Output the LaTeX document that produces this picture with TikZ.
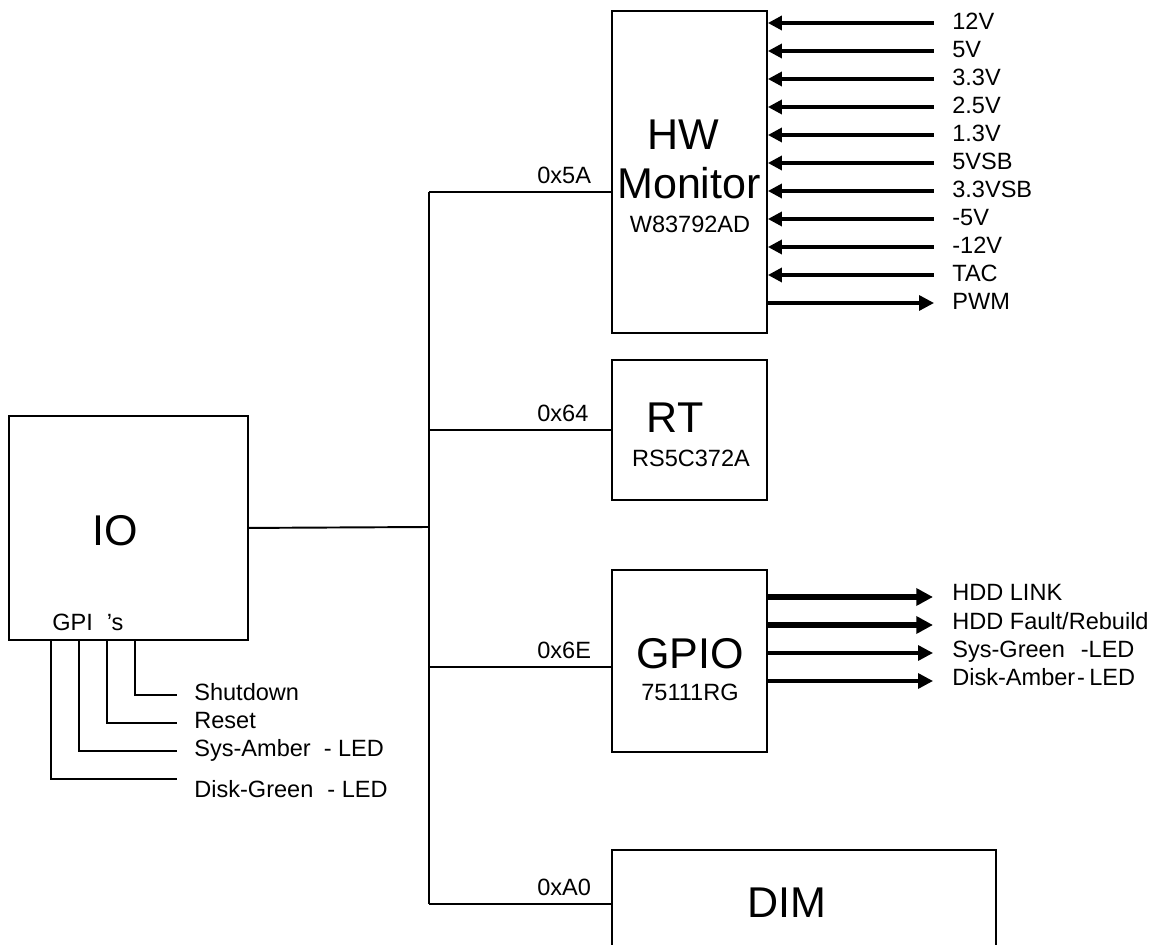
\documentclass[tikz,border=0pt]{standalone}
\usepackage{fontspec}
\setmainfont{Liberation Sans}
\usetikzlibrary{arrows.meta}
\begin{document}
\begin{tikzpicture}[x=0.02cm,y=-0.02cm,
  box/.style={draw,line width=1.1pt,inner sep=0pt,anchor=north west},
  big/.style={font=\fontsize{24.5pt}{29pt}\selectfont,inner sep=0pt,anchor=base},
  sm/.style={font=\fontsize{13.4pt}{16pt}\selectfont,inner sep=0pt,anchor=base west},
  smc/.style={font=\fontsize{13.4pt}{16pt}\selectfont,inner sep=0pt,anchor=base},
  wire/.style={line width=1.1pt},
  inarr/.style={line width=1.9pt,{Triangle[length=8pt,width=8pt]}-},
  outarr/.style={line width=1.9pt,-{Triangle[length=8.5pt,width=8.5pt]}},
  fatarr/.style={line width=3.4pt,-{Triangle[length=9.5pt,width=9.5pt]}},
]
\clip (0,0) rectangle (1153,945);
\fill[white] (0,0) rectangle (1153,945);

% boxes
\node[box,minimum width=4.78cm,minimum height=4.48cm] (io) at (8,415) {};
\node[box,minimum width=3.1cm,minimum height=6.44cm] (hw) at (611,10) {};
\node[box,minimum width=3.1cm,minimum height=2.8cm] (rt) at (611,359) {};
\node[box,minimum width=3.1cm,minimum height=3.64cm] (gpio) at (611,569) {};
\node[box,minimum width=7.68cm,minimum height=3.2cm] (dim) at (611,849) {};

% box texts
\node[big] (hwt1) at (683,150) {HW};
\node[big] (hwt2) at (689,199) {Monitor};
\node[smc] (hwt3) at (690,233) {W83792AD};
\node[big] (iot) at (115,546) {IO};
\node[sm] (gpis) at (52,630) {GPI\hspace{0.28cm}’s};
\node[big] (rtt1) at (675,433) {RT};
\node[smc] (rtt2) at (691,467) {RS5C372A};
\node[big] (gpt1) at (690,668) {GPIO};
\node[smc] (gpt2) at (690,700) {75111RG};
\node[big] (dimt) at (787,917) {DIM};

% bus
\coordinate (ba) at (429,192);
\coordinate (bb) at (429,430);
\coordinate (bc) at (429,667);
\coordinate (bd) at (429,904);
\coordinate (bio) at (429,527);
\draw[wire] (ba) -- (bd);
\draw[wire] (io.east) -- (bio);
\draw[wire] (ba) -- (ba -| hw.west);
\draw[wire] (bb) -- (bb -| rt.west);
\draw[wire] (bc) -- (bc -| gpio.west);
\draw[wire] (bd) -- (bd -| dim.west);
\node[sm] (a1) at (537,184) {0x5A};
\node[sm] (a2) at (537,422) {0x64};
\node[sm] (a3) at (537,659) {0x6E};
\node[sm] (a4) at (537,895) {0xA0};

% HW monitor inputs
\foreach \t [count=\i] in {12V,5V,3.3V,2.5V,1.3V,5VSB,3.3VSB,-5V,-12V,TAC} {
  \pgfmathsetmacro\yy{23+28*(\i-1)}
  \node[sm] (v\i) at (952,\yy+7) {\t};
  \coordinate (s\i) at (934,\yy);
  \draw[inarr] (hw.east |- s\i) -- (s\i);
}
\node[sm] (v11) at (952,310) {PWM};
\coordinate (s11) at (934,303);
\draw[outarr] (hw.east |- s11) -- (s11);

% GPIO outputs
\node[sm] (o1) at (952,601) {HDD LINK};
\node[sm] (o2) at (952,629) {HDD Fault/Rebuild};
\node[sm] (o3) at (952,657) {Sys-Green\hspace{0.32cm}-LED};
\node[sm] (o4) at (952,685) {Disk-Amber\hspace{1pt}-\hspace{2.5pt}LED};
\coordinate (t1) at (933,597);
\coordinate (t2) at (933,625);
\coordinate (t3) at (933,653);
\coordinate (t4) at (933,681);
\draw[fatarr] (gpio.east |- t1) -- (t1);
\draw[fatarr] (gpio.east |- t2) -- (t2);
\draw[outarr] (gpio.east |- t3) -- (t3);
\draw[outarr] (gpio.east |- t4) -- (t4);

% GPI lines
\coordinate (e1) at (177,695);
\coordinate (e2) at (177,723);
\coordinate (e3) at (177,751);
\coordinate (e4) at (177,779);
\draw[wire] ([xshift=2.54cm]io.south west) |- (e1);
\draw[wire] ([xshift=1.98cm]io.south west) |- (e2);
\draw[wire] ([xshift=1.42cm]io.south west) |- (e3);
\draw[wire] ([xshift=0.86cm]io.south west) |- (e4);
\node[sm] (l1) at (194,700) {Shutdown};
\node[sm] (l2) at (194,728) {Reset};
\node[sm] (l3) at (194,756) {Sys-Amber\hspace{0.26cm}- LED};
\node[sm] (l4) at (194,797) {Disk-Green\hspace{0.28cm}- LED};
\end{tikzpicture}
\end{document}
